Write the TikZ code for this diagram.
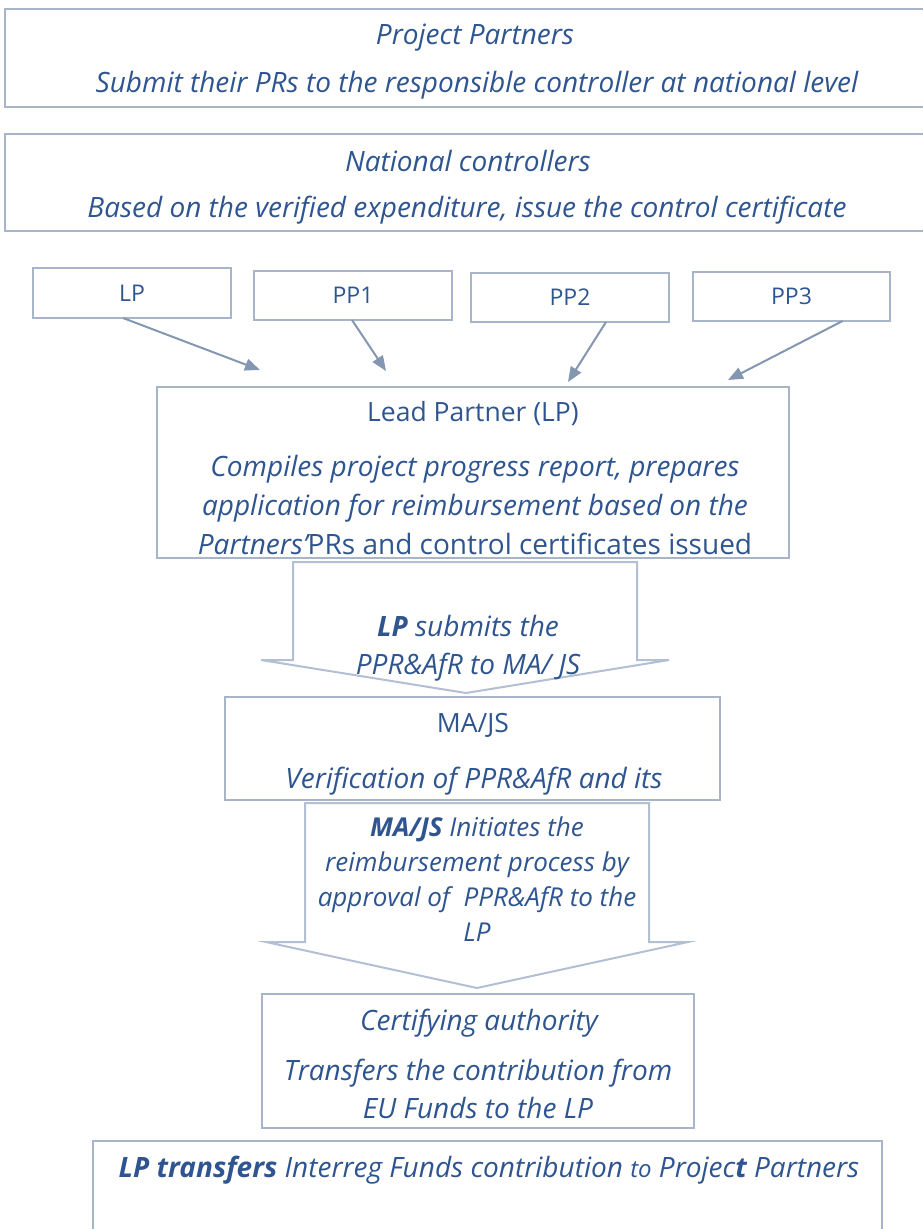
\documentclass[tikz,border=0pt]{standalone}
\usepackage{fontspec}
\setmainfont{Open Sans}
\usetikzlibrary{arrows.meta,positioning}
\definecolor{cText}{HTML}{2F5590}
\definecolor{cLine}{HTML}{A8B5C9}
\definecolor{cArrow}{HTML}{8497B0}
\definecolor{cBlock}{HTML}{B3BFD3}
\tikzset{
  box/.style   = {rectangle, draw=cLine, fill=white, line width=1.8pt, inner sep=0pt, outer sep=0pt},
  txt/.style   = {text=cText, inner sep=0pt, align=center, font=\fontsize{28}{38}\selectfont\itshape},
  rom/.style   = {txt, font=\fontsize{26.5}{38}\selectfont\upshape},
  sml/.style   = {txt, font=\fontsize{23}{30}\selectfont\upshape},
  fl/.style    = {-{Triangle[length=15pt, width=12pt]}, draw=cArrow, line width=2pt},
  blk/.style   = {draw=cBlock, fill=white, line width=2pt, line join=miter},
}
\begin{document}
\begin{tikzpicture}[x=1pt, y=-1pt]
  \useasboundingbox (0,0) rectangle (923,1229);

  % top boxes
  \node[box, minimum width=920pt, minimum height=98pt] (pp) at (465,58) {};
  \node[txt] (ppT) at (475,38) {Project Partners};
  \node[txt] (ppB) at (477,85) {Submit their PRs to the responsible controller at national level};

  \node[box, minimum width=920pt, minimum height=97pt] (nc) at (465,182.5) {};
  \node[txt] (ncT) at (468,161) {National controllers};
  \node[txt] (ncB) at (467,210) {Based on the verified expenditure, issue the control certificate};

  % partners
  \node[box, minimum width=198pt, minimum height=50pt] (lp)  at (132,293)   {};
  \node[box, minimum width=198pt, minimum height=49pt] (pp1) at (353,295.5) {};
  \node[box, minimum width=198pt, minimum height=49pt] (pp2) at (570,297.5) {};
  \node[box, minimum width=197pt, minimum height=49pt] (pp3) at (791.5,296.5) {};
  \node[sml] at (lp)  {LP};
  \node[sml] at (pp1) {PP1};
  \node[sml] at (pp2) {PP2};
  \node[sml] at (pp3) {PP3};

  \coordinate (e1) at (260,370);
  \coordinate (e2) at (386,371);
  \coordinate (e3) at (568,382);
  \coordinate (e4) at (728,380);
  \draw[fl] ([xshift=-9pt]lp.south) -- (e1);
  \draw[fl] ([xshift=-1pt]pp1.south) -- (e2);
  \draw[fl] ([xshift=36pt]pp2.south) -- (e3);
  \draw[fl] ([xshift=51pt]pp3.south) -- (e4);

  % lead partner
  \node[box, minimum width=632pt, minimum height=171pt] (lead) at (473,472.5) {};
  \node[rom] (leadT) at (473,414) {Lead Partner (LP)};
  \begin{scope}
    \clip (158,388) rectangle (788,557);
    \node[txt, font=\fontsize{28}{39}\selectfont\itshape, anchor=north] (leadB) at (475,455)
      {Compiles project progress report, prepares\\
       application for reimbursement based on the\\
       Partners'\upshape PRs and control certificates issued};
  \end{scope}

  \draw[blk] (293,562) -- (293,660) -- (261,660) -- (466,693) -- (669,660) -- (637,660) -- (637,562) -- cycle;
  \node[txt, anchor=north] (sub) at (468,615)
    {{\bfseries LP} submits the\\PPR\&AfR to MA/ JS};

  % MA/JS
  \node[box, minimum width=495pt, minimum height=103pt] (majs) at (472.5,748.5) {};
  \node[rom] (majsT) at (473,725) {MA/JS};
  \node[txt] (majsB) at (474,781) {Verification of PPR\&AfR and its};

  \draw[blk] (305,803) -- (305,942) -- (266,942) -- (477,988) -- (688,942) -- (649,942) -- (649,803) -- cycle;
  \node[txt, font=\fontsize{26}{35}\selectfont\itshape, anchor=north] (init) at (477,817)
    {{\bfseries MA/JS} Initiates the\\reimbursement process by\\approval of~ PPR\&AfR to the\\LP};

  % certifying authority
  \node[box, minimum width=432pt, minimum height=134pt] (ca) at (478,1061) {};
  \node[txt] (caT) at (479,1023) {Certifying authority};
  \node[txt, anchor=north] (caB) at (478,1059) {Transfers the contribution from\\EU Funds to the LP};

  \node[box, minimum width=789pt, minimum height=100pt] (fin) at (487.5,1191) {};
  \node[txt] (finT) at (489,1170)
    {{\bfseries LP transfers} Interreg Funds contribution {\fontsize{24}{28}\selectfont to} Projec{\bfseries t} Partners};
\end{tikzpicture}
\end{document}
